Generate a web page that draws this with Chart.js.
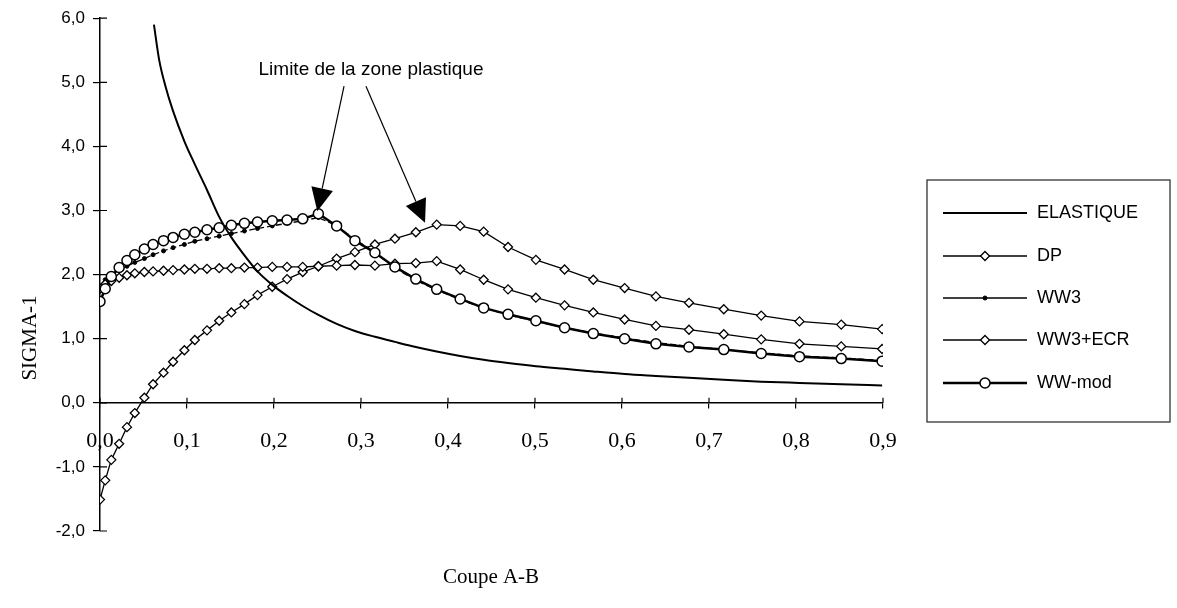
<!DOCTYPE html>
<html lang="fr">
<head>
<meta charset="UTF-8">
<title>SIGMA-1 - Coupe A-B</title>
<script src="https://cdn.jsdelivr.net/npm/chart.js@4.4.1/dist/chart.umd.min.js"></script>
<style>
  html, body { margin: 0; padding: 0; background: #fff; }
</style>
</head>
<body>
<canvas id="chart" width="1177" height="608"></canvas>
<script>
// mesh points along the cut A-B (shared by the plastic models)
const xCoupe = [0, 0.006, 0.013, 0.022, 0.031, 0.040, 0.051, 0.061, 0.073, 0.084,
                0.097, 0.109, 0.123, 0.137, 0.151, 0.166, 0.181, 0.198, 0.215, 0.233,
                0.251, 0.272, 0.293, 0.316, 0.339, 0.363, 0.387, 0.414, 0.441, 0.469,
                0.501, 0.534, 0.567, 0.603, 0.639, 0.677, 0.717, 0.760, 0.804, 0.852, 0.899];

const dp = [1.78, 1.85, 1.90, 1.95, 1.99, 2.02, 2.04, 2.05, 2.06, 2.07,
            2.08, 2.09, 2.09, 2.10, 2.10, 2.11, 2.11, 2.12, 2.12, 2.12,
            2.13, 2.14, 2.15, 2.14, 2.17, 2.18, 2.21, 2.08, 1.92, 1.77,
            1.64, 1.52, 1.41, 1.30, 1.20, 1.14, 1.07, 0.99, 0.92, 0.88, 0.84];

const ww3 = [1.82, 1.92, 2.00, 2.07, 2.13, 2.19, 2.25, 2.31, 2.37, 2.42,
             2.47, 2.52, 2.56, 2.60, 2.64, 2.68, 2.72, 2.76, 2.80, 2.84,
             2.89, 2.76, 2.55, 2.35, 2.10, 1.91, 1.76, 1.61, 1.48, 1.37,
             1.27, 1.17, 1.09, 1.01, 0.94, 0.88, 0.83, 0.78, 0.73, 0.70, 0.66];

const ww3Ecr = [-1.51, -1.21, -0.89, -0.64, -0.38, -0.16, 0.08, 0.29, 0.47, 0.64,
                0.82, 0.98, 1.13, 1.28, 1.41, 1.54, 1.68, 1.81, 1.93, 2.04,
                2.13, 2.25, 2.35, 2.47, 2.56, 2.66, 2.78, 2.76, 2.67, 2.43,
                2.23, 2.08, 1.92, 1.79, 1.66, 1.56, 1.46, 1.36, 1.27, 1.22, 1.15];

const wwMod = [1.58, 1.78, 1.97, 2.11, 2.22, 2.31, 2.40, 2.47, 2.53, 2.58,
               2.63, 2.66, 2.70, 2.73, 2.77, 2.80, 2.82, 2.84, 2.85, 2.87,
               2.95, 2.76, 2.53, 2.34, 2.12, 1.93, 1.77, 1.62, 1.48, 1.38,
               1.28, 1.17, 1.08, 1.00, 0.92, 0.87, 0.83, 0.77, 0.72, 0.69, 0.65];

// elastic solution, only visible below 6.0
const xElastique = [0.062, 0.068, 0.075, 0.084, 0.097, 0.109, 0.123, 0.137, 0.151, 0.166,
                    0.181, 0.198, 0.215, 0.233, 0.251, 0.272, 0.293, 0.316, 0.339, 0.363,
                    0.387, 0.414, 0.441, 0.469, 0.501, 0.534, 0.567, 0.603, 0.639, 0.677,
                    0.717, 0.760, 0.804, 0.852, 0.899];
const elastique = [5.9, 5.35, 4.95, 4.55, 4.08, 3.72, 3.32, 2.9, 2.58, 2.3,
                   2.05, 1.84, 1.67, 1.51, 1.37, 1.23, 1.12, 1.03, 0.95, 0.87,
                   0.80, 0.73, 0.67, 0.62, 0.57, 0.53, 0.49, 0.45, 0.42, 0.39,
                   0.36, 0.33, 0.31, 0.29, 0.27];

const xRange = [0, 0.9];
const yRange = [-2, 6];

const noteText = 'Limite de la zone plastique';

const toPoints = (xs, ys) => xs.map((x, i) => ({ x: x, y: ys[i] }));
const fmt = (v) => Number(v).toFixed(1).replace('.', ',');

const sans = '"Liberation Sans", Arial, sans-serif';
const serif = '"Liberation Serif", "Times New Roman", serif';

// order: WW-mod drawn last so its open circles hide the WW3 dots
const datasets = [
    {
        label: 'ELASTIQUE',
        data: toPoints(xElastique, elastique),
        borderColor: '#000', borderWidth: 2,
        pointRadius: 0,
        cubicInterpolationMode: 'monotone',
        order: 1
    },
    {
        label: 'DP',
        data: toPoints(xCoupe, dp),
        borderColor: '#000', borderWidth: 1.3,
        pointStyle: 'rectRot', pointRadius: 4.5,
        pointBackgroundColor: '#fff', pointBorderColor: '#000', pointBorderWidth: 1.3,
        order: 2
    },
    {
        label: 'WW3',
        data: toPoints(xCoupe, ww3),
        borderColor: '#000', borderWidth: 1.3, borderDash: [6, 3],
        pointStyle: 'circle', pointRadius: 2,
        pointBackgroundColor: '#000', pointBorderColor: '#000', pointBorderWidth: 1,
        order: 3
    },
    {
        label: 'WW3+ECR',
        data: toPoints(xCoupe, ww3Ecr),
        borderColor: '#000', borderWidth: 1.3,
        pointStyle: 'rectRot', pointRadius: 4.5,
        pointBackgroundColor: '#fff', pointBorderColor: '#000', pointBorderWidth: 1.3,
        order: 2
    },
    {
        label: 'WW-mod',
        data: toPoints(xCoupe, wwMod),
        borderColor: '#000', borderWidth: 2.5,
        pointStyle: 'circle', pointRadius: 5,
        pointBackgroundColor: '#fff', pointBorderColor: '#000', pointBorderWidth: 1.5,
        order: 0
    }
];

// ticks crossing the axes (chart.js only draws the outer half)
const innerTicks = {
    id: 'innerTicks',
    afterDraw(chart) {
        const ctx = chart.ctx;
        const x = chart.scales.x, y = chart.scales.y;
        const yZero = y.getPixelForValue(0);
        const left = chart.chartArea.left;
        ctx.save();
        ctx.strokeStyle = '#000';
        ctx.lineWidth = 1.2;
        ctx.beginPath();
        x.ticks.forEach(t => {
            const px = x.getPixelForValue(t.value);
            ctx.moveTo(px, yZero);
            ctx.lineTo(px, yZero - 5);
        });
        y.ticks.forEach(t => {
            const py = y.getPixelForValue(t.value);
            ctx.moveTo(left, py);
            ctx.lineTo(left + 7, py);
        });
        ctx.stroke();
        ctx.restore();
    }
};

function arrow(ctx, x1, y1, x2, y2) {
    const ang = Math.atan2(y2 - y1, x2 - x1);
    const len = 23, half = 11;
    const bx = x2 - Math.cos(ang) * len, by = y2 - Math.sin(ang) * len;
    ctx.beginPath();
    ctx.moveTo(x1, y1);
    ctx.lineTo(bx, by);
    ctx.stroke();
    ctx.beginPath();
    ctx.moveTo(x2, y2);
    ctx.lineTo(bx + Math.sin(ang) * half, by - Math.cos(ang) * half);
    ctx.lineTo(bx - Math.sin(ang) * half, by + Math.cos(ang) * half);
    ctx.closePath();
    ctx.fill();
}

// note + the two arrows pointing at the plastic limit
const note = {
    id: 'note',
    afterDraw(chart) {
        const ctx = chart.ctx;
        const x = chart.scales.x, y = chart.scales.y;
        ctx.save();
        ctx.fillStyle = '#000';
        ctx.strokeStyle = '#000';
        ctx.lineWidth = 1.2;
        ctx.font = '19px ' + sans;
        ctx.textAlign = 'center';
        ctx.textBaseline = 'middle';
        ctx.fillText(noteText, x.getPixelForValue(0.3115), y.getPixelForValue(5.2));
        arrow(ctx, x.getPixelForValue(0.2805), y.getPixelForValue(4.94),
                   x.getPixelForValue(0.2498), y.getPixelForValue(2.99));
        arrow(ctx, x.getPixelForValue(0.3057), y.getPixelForValue(4.94),
                   x.getPixelForValue(0.3736), y.getPixelForValue(2.81));

        // axis titles
        ctx.font = '21px ' + serif;
        ctx.fillText('Coupe A-B', 491, 577);
        ctx.translate(30, 338);
        ctx.rotate(-Math.PI / 2);
        ctx.fillText('SIGMA-1', 0, 0);
        ctx.restore();
    }
};

// boxed legend with line + marker samples
const boxLegend = {
    id: 'boxLegend',
    afterDraw(chart) {
        const ctx = chart.ctx;
        const box = { l: 927, t: 180, r: 1170, b: 422 };
        const rows = [213, 256, 298, 340, 383];
        ctx.save();
        ctx.strokeStyle = '#222';
        ctx.lineWidth = 1.2;
        ctx.strokeRect(box.l, box.t, box.r - box.l, box.b - box.t);
        ctx.font = '18px ' + sans;
        ctx.textBaseline = 'middle';
        ctx.textAlign = 'left';
        chart.data.datasets.forEach((d, i) => {
            const yy = rows[i];
            ctx.strokeStyle = '#000';
            ctx.lineWidth = d.borderWidth;
            ctx.setLineDash([]);
            ctx.beginPath();
            ctx.moveTo(943, yy);
            ctx.lineTo(1027, yy);
            ctx.stroke();
            const cx = 985;
            if (d.pointRadius > 0) {
                ctx.lineWidth = d.pointBorderWidth;
                ctx.fillStyle = d.pointBackgroundColor;
                ctx.beginPath();
                if (d.pointStyle === 'rectRot') {
                    const r = d.pointRadius;
                    ctx.moveTo(cx - r, yy);
                    ctx.lineTo(cx, yy - r);
                    ctx.lineTo(cx + r, yy);
                    ctx.lineTo(cx, yy + r);
                    ctx.closePath();
                } else {
                    ctx.arc(cx, yy, d.pointRadius, 0, Math.PI * 2);
                }
                ctx.fill();
                ctx.stroke();
            }
            ctx.fillStyle = '#000';
            ctx.fillText(d.label, 1037, yy);
        });
        ctx.restore();
    }
};

new Chart(document.getElementById('chart'), {
    type: 'line',
    data: { datasets: datasets },
    options: {
        responsive: false,
        animation: false,
        layout: { padding: { left: 0, right: 294, top: 18, bottom: 77 } },
        plugins: {
            legend: { display: false },
            tooltip: { enabled: false }
        },
        scales: {
            x: {
                type: 'linear',
                position: { y: 0 },
                min: xRange[0], max: xRange[1],
                border: { display: true, color: '#000', width: 1.5 },
                grid: { drawOnChartArea: false, drawTicks: true, tickLength: 5, color: '#000', lineWidth: 1.2 },
                ticks: {
                    stepSize: 0.1, padding: 20, color: '#000',
                    autoSkip: false, maxRotation: 0,
                    font: { family: serif, size: 22 },
                    callback: (v) => fmt(v)
                }
            },
            y: {
                type: 'linear',
                position: 'left',
                min: yRange[0], max: yRange[1],
                afterFit: (s) => { s.width = 100; },
                border: { display: true, color: '#000', width: 1.5 },
                grid: { drawOnChartArea: false, drawTicks: true, tickLength: 7, color: '#000', lineWidth: 1.2 },
                ticks: {
                    stepSize: 1, padding: 8, color: '#000',
                    font: { family: sans, size: 17 },
                    callback: (v) => fmt(v)
                }
            }
        }
    },
    plugins: [innerTicks, note, boxLegend]
});
</script>
</body>
</html>
